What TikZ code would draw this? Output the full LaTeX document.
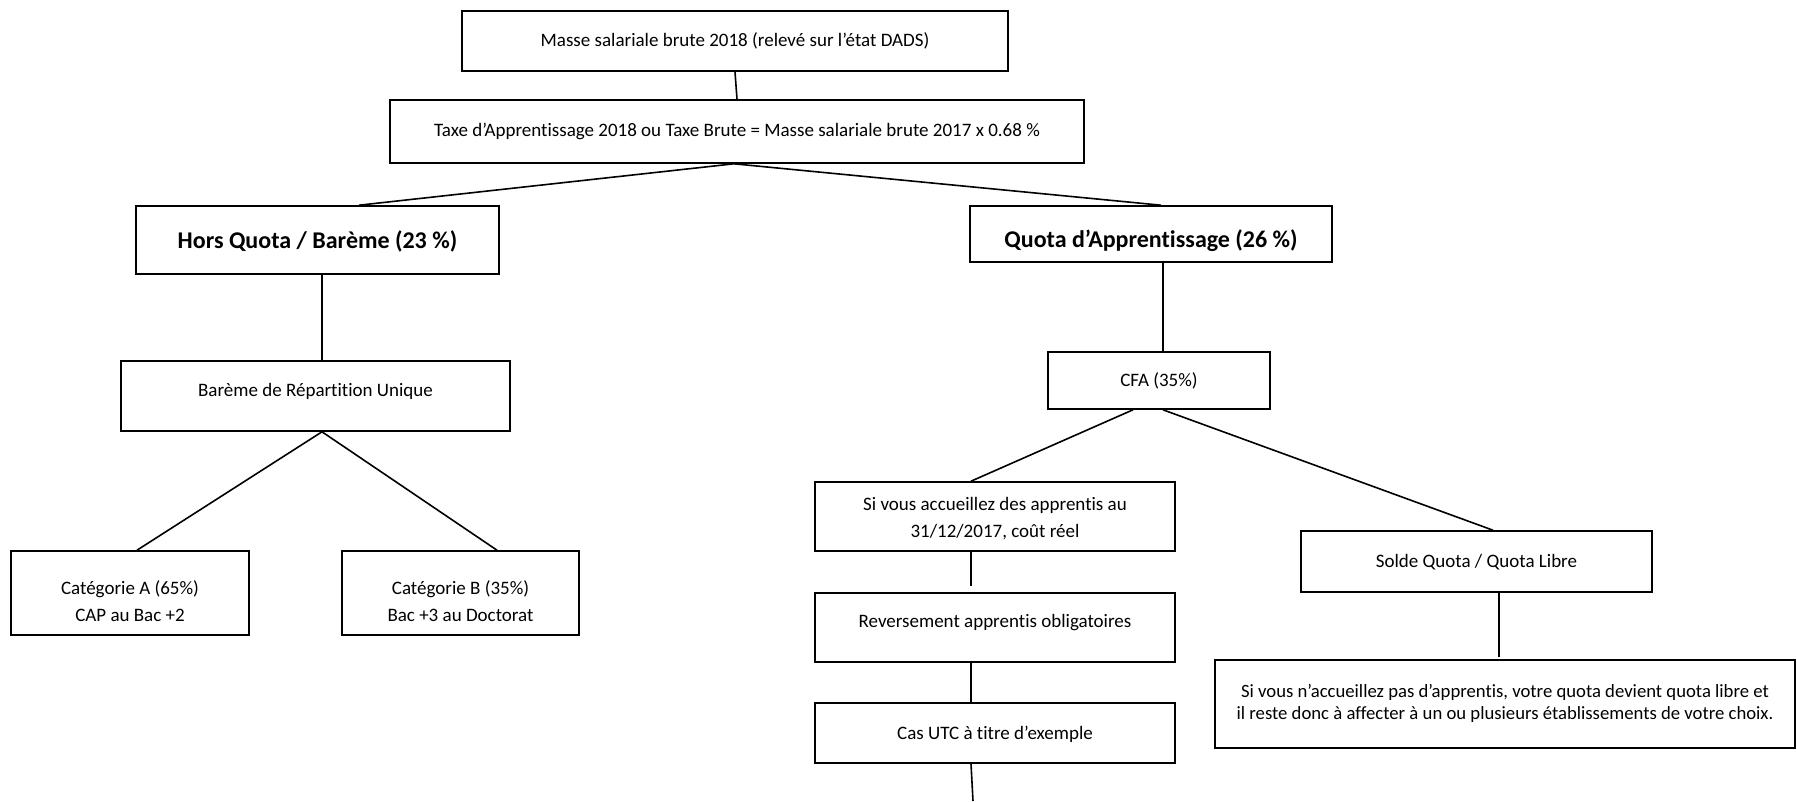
\documentclass[tikz,border=0pt]{standalone}
\usepackage{fontspec}
\setmainfont{Carlito}[Ligatures=NoCommon]
\begin{document}
\begin{tikzpicture}[x=1pt,y=-1pt,
  box/.style={draw, line width=1.6pt, inner sep=0pt},
  link/.style={line width=1.6pt},
  txt/.style={font=\fontsize{19}{26.5}\selectfont, inner sep=0pt, align=center},
  bigtxt/.style={font=\bfseries\fontsize{24}{28}\selectfont, inner sep=0pt}]
\useasboundingbox (0,0) rectangle (1797,801);
% boxes
\node[box, minimum width=546pt, minimum height=60pt] (masse) at (735,41) {};
\node[box, minimum width=694pt, minimum height=63pt] (taxe) at (737,131.5) {};
\node[box, minimum width=363pt, minimum height=68pt] (hq) at (317.5,240) {};
\node[box, minimum width=362pt, minimum height=56pt] (quota) at (1151,234) {};
\node[box, minimum width=389pt, minimum height=70pt] (bareme) at (315.5,396) {};
\node[box, minimum width=238pt, minimum height=84pt] (cata) at (130,593) {};
\node[box, minimum width=237pt, minimum height=84pt] (catb) at (460.5,593) {};
\node[box, minimum width=222pt, minimum height=57pt] (cfa) at (1159,380.5) {};
\node[box, minimum width=360pt, minimum height=69pt] (sivous) at (995,516.5) {};
\node[box, minimum width=360pt, minimum height=69pt] (rev) at (995,627.5) {};
\node[box, minimum width=360pt, minimum height=60pt] (cas) at (995,733) {};
\node[box, minimum width=351pt, minimum height=61pt] (solde) at (1476.5,561.5) {};
\node[box, minimum width=580pt, minimum height=88pt] (libre) at (1505,704) {};
% texts
\node[txt] (tmasse) at (735,41) {Masse salariale brute 2018 (relevé sur l’état DADS)};
\node[txt] (ttaxe) at (737,131.5) {Taxe d’Apprentissage 2018 ou Taxe Brute = Masse salariale brute 2017 x 0.68 \%};
\node[bigtxt] (thq) at (317.5,241) {Hors Quota / Barème (23 \%)};
\node[bigtxt] (tquota) at (1151,241) {Quota d’Apprentissage (26 \%)};
\node[txt] (tbareme) at (315.5,391) {Barème de Répartition Unique};
\node[txt] (tcata) at (130,601) {Catégorie A (65\%)\\CAP au Bac +2};
\node[txt] (tcatb) at (460.5,601) {Catégorie B (35\%)\\Bac +3 au Doctorat};
\node[txt] (tcfa) at (1159,380.5) {CFA (35\%)};
\node[txt] (tsivous) at (995,518.5) {Si vous accueillez des apprentis au\\31/12/2017, coût réel};
\node[txt] (trev) at (995,623) {Reversement apprentis obligatoires};
\node[txt] (tcas) at (995,734) {Cas UTC à titre d’exemple};
\node[txt] (tsolde) at (1476.5,562) {Solde Quota / Quota Libre};
\node[txt, font=\fontsize{18.7}{22}\selectfont] (tlibre) at (1505,703) {Si vous n’accueillez pas d’apprentis, votre quota devient quota libre et\\il reste donc à affecter à un ou plusieurs établissements de votre choix.};
% free ends
\coordinate (e1) at (971,586);
\coordinate (e2) at (973,801);
\coordinate (e3) at (1499,657);
% connectors
\draw[link] (masse.south) -- (taxe.north);
\draw[link] ([xshift=-3pt]taxe.south) -- ([xshift=41.5pt]hq.north);
\draw[link] ([xshift=-3pt]taxe.south) -- ([xshift=10pt]quota.north);
\draw[link] ([xshift=4.5pt]hq.south) -- ([xshift=6.5pt]bareme.north);
\draw[link] ([xshift=6.5pt]bareme.south) -- ([xshift=7pt]cata.north);
\draw[link] ([xshift=6.5pt]bareme.south) -- ([xshift=36.5pt]catb.north);
\draw[link] ([xshift=12pt]quota.south) -- ([xshift=4pt]cfa.north);
\draw[link] ([xshift=-26pt]cfa.south) -- ([xshift=-24pt]sivous.north);
\draw[link] ([xshift=4pt]cfa.south) -- ([xshift=16.5pt]solde.north);
\draw[link] ([xshift=-24pt]sivous.south) -- (e1);
\draw[link] ([xshift=-24pt]rev.south) -- ([xshift=-24pt]cas.north);
\draw[link] ([xshift=-24pt]cas.south) -- (e2);
\draw[link] ([xshift=22.5pt]solde.south) -- (e3);
\end{tikzpicture}
\end{document}
